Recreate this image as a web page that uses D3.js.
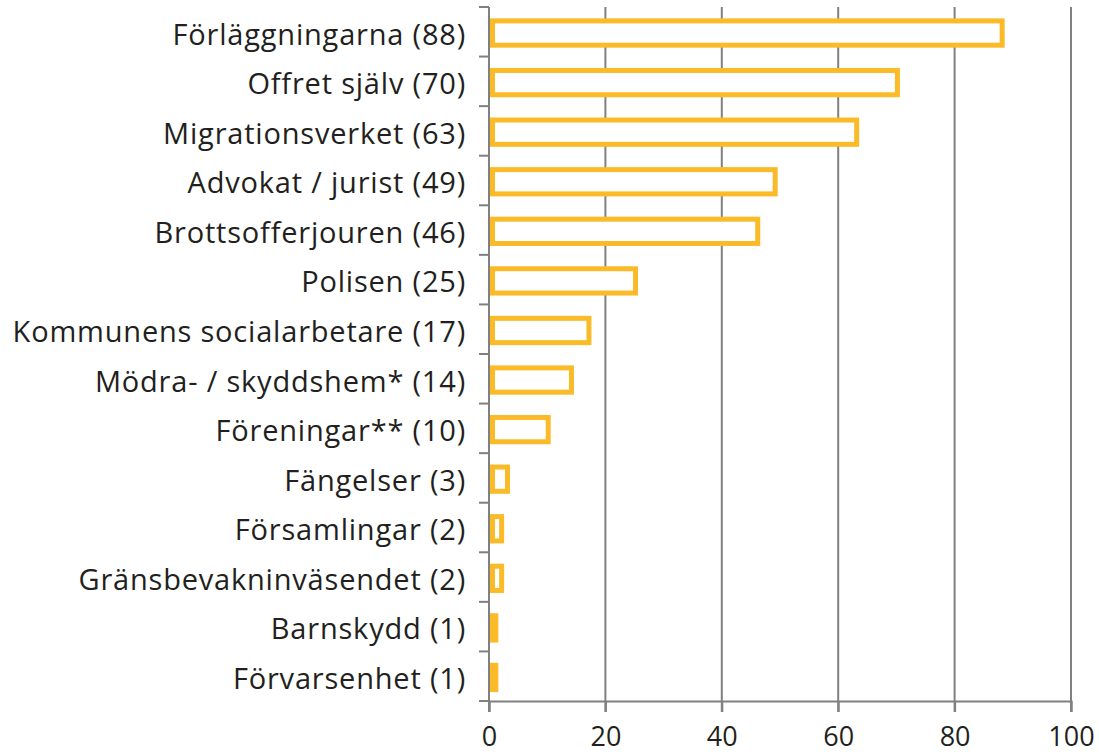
<!DOCTYPE html>
<html>
<head>
<meta charset="utf-8">
<script src="https://cdn.jsdelivr.net/npm/d3@7"></script>
<style>
  body { margin: 0; background: #fff; }
  text { font-family: "Open Sans", sans-serif; fill: #231f20; }
</style>
</head>
<body>
<script>
var categories = ["Förläggningarna", "Offret själv", "Migrationsverket", "Advokat / jurist",
  "Brottsofferjouren", "Polisen", "Kommunens socialarbetare", "Mödra- / skyddshem*",
  "Föreningar**", "Fängelser", "Församlingar", "Gränsbevakninväsendet", "Barnskydd", "Förvarsenhet"];
var values = [88, 70, 63, 49, 46, 25, 17, 14, 10, 3, 2, 2, 1, 1];
var xTicks = [0, 20, 40, 60, 80, 100];

var margin = {top: 7, right: 28, bottom: 54, left: 489},
    width = 1099 - margin.left - margin.right,
    height = 755 - margin.top - margin.bottom;

var data = categories.map(function(c, i) { return {name: c, value: values[i]}; });

var x = d3.scaleLinear().domain([0, 100]).range([0, width]);
var y = d3.scaleBand().domain(categories).range([0, height]).paddingInner(0.5).paddingOuter(0.25);

var svg = d3.select("body").append("svg")
  .attr("width", 1099)
  .attr("height", 755)
  .append("g")
  .attr("transform", "translate(" + margin.left + "," + margin.top + ")");

// vertical gridlines
svg.selectAll(".grid")
  .data(xTicks.slice(1))
  .enter().append("line")
  .attr("x1", function(d) { return x(d); })
  .attr("x2", function(d) { return x(d); })
  .attr("y1", 0)
  .attr("y2", height + 11)
  .attr("stroke", "#808080")
  .attr("stroke-width", 2);

// x axis
var xAxis = svg.append("g")
  .attr("transform", "translate(0," + height + ")")
  .call(d3.axisBottom(x).tickValues(xTicks).tickSize(11).tickPadding(15));
xAxis.select(".domain").attr("stroke", "#808080").attr("stroke-width", 2);
xAxis.selectAll(".tick line").attr("stroke", "#808080").attr("stroke-width", 2);
xAxis.selectAll(".tick text").style("font-size", "27px").attr("fill", "#231f20");

// y axis, ticks between bands
var yBounds = d3.range(categories.length + 1).map(function(i) { return i * height / categories.length; });
svg.append("line")
  .attr("x1", 0).attr("x2", 0)
  .attr("y1", 0).attr("y2", height + 11)
  .attr("stroke", "#808080").attr("stroke-width", 2);
svg.selectAll(".ytick")
  .data(yBounds)
  .enter().append("line")
  .attr("x1", -10).attr("x2", 0)
  .attr("y1", function(d) { return d; })
  .attr("y2", function(d) { return d; })
  .attr("stroke", "#808080").attr("stroke-width", 2);

// bars
var sw = 5;
svg.selectAll(".bar")
  .data(data)
  .enter().append("rect")
  .attr("x", x(0) + 1 + sw / 2)
  .attr("y", function(d) { return y(d.name) + sw / 2 - 1; })
  .attr("width", function(d) { return Math.max(0.5, x(d.value) - sw / 2); })
  .attr("height", y.bandwidth() - sw / 2 + 2)
  .attr("fill", "#fff")
  .attr("stroke", "#fbbb28")
  .attr("stroke-width", sw);

// labels
svg.selectAll(".label")
  .data(data)
  .enter().append("text")
  .attr("x", -23)
  .attr("y", function(d) { return y(d.name) + y.bandwidth() / 2; })
  .attr("dy", "0.44em")
  .attr("text-anchor", "end")
  .style("font-size", "29px")
  .style("letter-spacing", "0.8px")
  .text(function(d) { return d.name + " (" + d.value + ")"; });
</script>
</body>
</html>
